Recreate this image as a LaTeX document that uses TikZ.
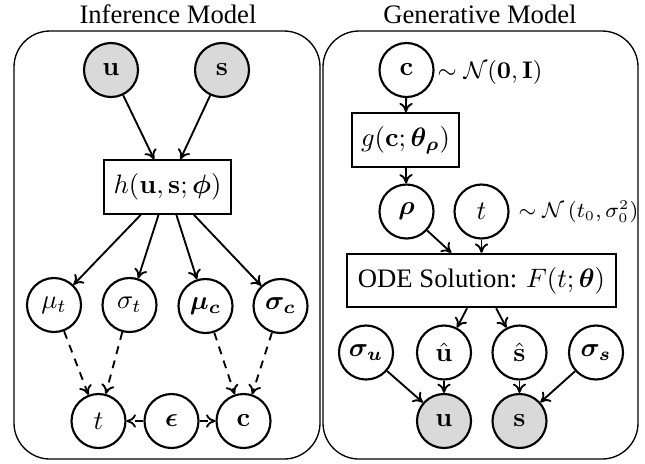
\documentclass[tikz,border=0pt]{standalone}
\usepackage{amsmath,amssymb,bm}
\usepackage[no-math]{fontspec}
\setmainfont{Liberation Serif}
\usetikzlibrary{arrows.meta}
\begin{document}
\begin{tikzpicture}[x=0.375pt,y=-0.375pt,
  var/.style={circle,draw,line width=0.8pt,minimum size=20.25pt,inner sep=1pt},
  obs/.style={var,fill=black!15},
  fbox/.style={rectangle,draw,line width=0.8pt,minimum height=20pt,inner xsep=3.5pt},
  panel/.style={draw,line width=0.5pt,rounded corners=13.5pt},
  edge/.style={-{To[length=3.5pt,width=5pt]},line width=0.7pt},
  dedge/.style={edge,dash pattern=on 3pt off 2.5pt},
  lab/.style={anchor=west,inner sep=0pt,font=\fontsize{8.6pt}{10pt}\selectfont},
  ttl/.style={inner sep=0pt}]
\useasboundingbox (0,0) rectangle (645,463);
% panels
\draw[panel] (14,31) rectangle (320,459);
\draw[panel] (323,31) rectangle (638,459);
\node[ttl] (t1) at (168,14) {Inference Model};
\node[ttl] (t2) at (480,14) {Generative Model};
% inference model
\node[obs] (iu) at (111,70) {$\mathbf{u}$};
\node[obs] (is) at (222,70) {$\mathbf{s}$};
\node[fbox] (h) at (167.5,187) {$h(\mathbf{u},\mathbf{s};\bm{\phi})$};
\node[var] (mut) at (54,305) {$\mu_t$};
\node[var] (sigt) at (129.5,305) {$\sigma_t$};
\node[var] (muc) at (205.5,306) {$\bm{\mu_c}$};
\node[var] (sigc) at (280.5,306) {$\bm{\sigma_c}$};
\node[var] (it) at (98.5,421) {$t$};
\node[var] (eps) at (171.5,421) {$\bm{\epsilon}$};
\node[var] (ic) at (243.5,421) {$\mathbf{c}$};
\draw[edge] (iu) -- (h);
\draw[edge] (is) -- (h);
\draw[edge] (h) -- (mut);
\draw[edge] (h) -- (sigt);
\draw[edge] (h) -- (muc);
\draw[edge] (h) -- (sigc);
\draw[dedge] (mut) -- (it);
\draw[dedge] (sigt) -- (it);
\draw[dedge] (muc) -- (ic);
\draw[dedge] (sigc) -- (ic);
\draw[dedge] (eps) -- (it);
\draw[dedge] (eps) -- (ic);
% generative model
\node[var] (gc) at (406.5,70) {$\mathbf{c}$};
\node[lab] (lc) at (437,72) {$\sim\mathcal{N}(\mathbf{0},\mathbf{I})$};
\node[fbox] (g) at (405.5,140) {$g(\mathbf{c};\bm{\theta}_{\bm{\rho}})$};
\node[var] (rho) at (406.5,211.5) {$\bm{\rho}$};
\node[var] (gt) at (481.5,211.5) {$t$};
\node[lab,font=\fontsize{7.8pt}{9pt}\selectfont] (lt) at (518,212) {$\sim\mathcal{N}\left(t_0,\sigma_0^2\right)$};
\node[fbox,inner xsep=4pt] (ode) at (481.5,280.5) {ODE Solution: $F(t;\bm{\theta})$};
\node[var] (sigu) at (366,352.5) {$\bm{\sigma_u}$};
\node[var] (uhat) at (444,352.5) {$\hat{\mathbf{u}}$};
\node[var] (shat) at (519.5,352.5) {$\hat{\mathbf{s}}$};
\node[var] (sigs) at (596,352.5) {$\bm{\sigma_s}$};
\node[obs] (gu) at (444,421) {$\mathbf{u}$};
\node[obs] (gs) at (519.5,421) {$\mathbf{s}$};
\draw[edge] (gc) -- (g);
\draw[edge] (g) -- (rho);
\draw[edge] (rho) -- (ode);
\draw[edge] (gt) -- (ode);
\draw[edge] (ode) -- (uhat);
\draw[edge] (ode) -- (shat);
\draw[edge] (sigu) -- (gu);
\draw[edge] (uhat) -- (gu);
\draw[edge] (shat) -- (gs);
\draw[edge] (sigs) -- (gs);
\end{tikzpicture}
\end{document}
